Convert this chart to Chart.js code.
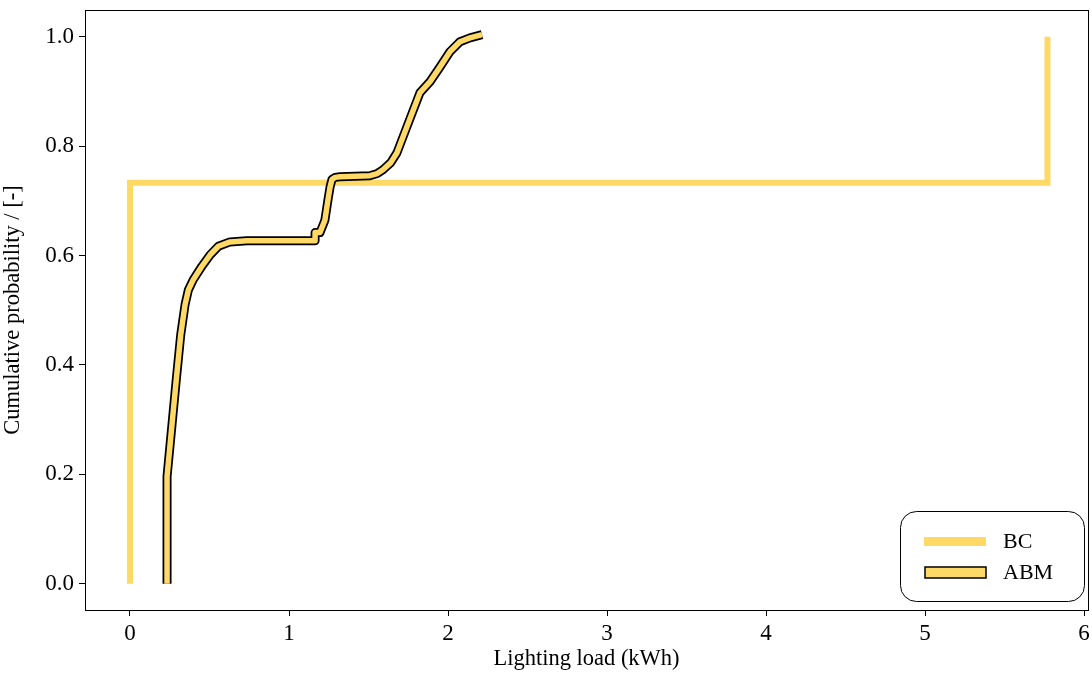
<!DOCTYPE html>
<html>
<head>
<meta charset="utf-8">
<script src="https://cdn.jsdelivr.net/npm/chart.js@4/dist/chart.umd.min.js"></script>
<style>
  html, body { margin: 0; padding: 0; background: #fff; }
  #wrap { width: 1092px; height: 679px; position: relative; }
</style>
</head>
<body>
<div id="wrap"><canvas id="cdf"></canvas></div>
<script>
// 数据
var bcX = [0, 0, 5.77, 5.77];
var bcY = [0, 0.733, 0.733, 1.0];

var abmX = [0.233, 0.233, 0.289, 0.319, 0.346, 0.367, 0.398, 0.451, 0.503, 0.556, 0.629, 0.734, 1.164, 1.164, 1.195, 1.226, 1.245, 1.258, 1.270, 1.290, 1.321, 1.509, 1.555, 1.591, 1.640, 1.679, 1.742, 1.824, 1.887, 1.950, 2.013, 2.075, 2.138, 2.214];
var abmY = [0.0, 0.196, 0.367, 0.455, 0.510, 0.537, 0.556, 0.580, 0.601, 0.617, 0.625, 0.627, 0.627, 0.642, 0.642, 0.665, 0.702, 0.725, 0.739, 0.743, 0.744, 0.746, 0.750, 0.757, 0.770, 0.788, 0.836, 0.898, 0.918, 0.945, 0.973, 0.991, 0.998, 1.004];

var xTicks = [0, 1, 2, 3, 4, 5, 6];
var yTicks = [0, 0.2, 0.4, 0.6, 0.8, 1.0];

var YELLOW = '#ffd966';
var FONT = '"Liberation Serif", "DejaVu Serif", serif';

function toPoints(xs, ys) {
    return xs.map(function(x, i) { return { x: x, y: ys[i] }; });
}

// 边框 + 图例
var framePlugin = {
    id: 'frame',
    afterDatasetsDraw: function(chart) {
        var ctx = chart.ctx;
        var a = chart.chartArea;
        ctx.save();
        ctx.strokeStyle = '#000';
        ctx.lineWidth = 1;
        ctx.strokeRect(Math.round(a.left) + 0.5, Math.round(a.top) + 0.5,
            Math.round(a.right - a.left), Math.round(a.bottom - a.top));

        // 图例框
        var bx = 900, by = 511, bw = 184, bh = 90, r = 16;
        ctx.beginPath();
        ctx.roundRect(bx + 0.5, by + 0.5, bw, bh, r);
        ctx.fillStyle = 'rgba(255,255,255,0.9)';
        ctx.fill();
        ctx.strokeStyle = '#000';
        ctx.lineWidth = 1;
        ctx.stroke();

        ctx.font = '22px ' + FONT;
        ctx.textBaseline = 'middle';
        ctx.fillStyle = '#000';

        // BC
        ctx.fillStyle = YELLOW;
        ctx.fillRect(924, 537, 62, 9);
        ctx.fillStyle = '#000';
        ctx.fillText('BC', 1003, 542);

        // ABM
        ctx.fillStyle = YELLOW;
        ctx.fillRect(925, 567, 61, 11);
        ctx.strokeStyle = '#000';
        ctx.lineWidth = 1.5;
        ctx.strokeRect(925, 567, 61, 11);
        ctx.fillStyle = '#000';
        ctx.fillText('ABM', 1003, 573);
        ctx.restore();
    }
};

var ctx = document.getElementById('cdf').getContext('2d');
new Chart(ctx, {
    type: 'scatter',
    data: {
        datasets: [
            {
                label: 'BC',
                data: toPoints(bcX, bcY),
                showLine: true,
                borderColor: YELLOW,
                borderWidth: 6,
                pointRadius: 0,
                tension: 0,
                borderJoinStyle: 'miter',
                order: 3,
            },
            {
                label: 'ABM outline',
                data: toPoints(abmX, abmY),
                showLine: true,
                borderColor: '#000',
                borderWidth: 9,
                pointRadius: 0,
                tension: 0,
                borderJoinStyle: 'round',
                order: 2,
            },
            {
                label: 'ABM',
                data: toPoints(abmX, abmY),
                showLine: true,
                borderColor: YELLOW,
                borderWidth: 5.5,
                pointRadius: 0,
                tension: 0,
                borderJoinStyle: 'round',
                order: 1,
            },
        ],
    },
    options: {
        responsive: true,
        maintainAspectRatio: false,
        animation: false,
        layout: { padding: { top: 10, right: 4, left: 0, bottom: 0 } },
        plugins: {
            legend: { display: false },
            tooltip: { enabled: false },
        },
        scales: {
            x: {
                type: 'linear',
                min: -0.283,
                max: 6.025,
                afterFit: function(s) {
                    s.height = 69;
                    s.paddingLeft = 0;
                    s.paddingRight = 0;
                },
                afterBuildTicks: function(s) {
                    s.ticks = xTicks.map(function(v) { return { value: v }; });
                },
                ticks: {
                    color: '#000',
                    font: { family: FONT, size: 23 },
                    padding: 4,
                    maxRotation: 0,
                    callback: function(v) { return String(v); },
                },
                grid: { drawOnChartArea: false, drawTicks: true, tickLength: 6, color: '#000' },
                border: { display: true, color: '#000' },
                title: {
                    display: true,
                    text: 'Lighting load (kWh)',
                    color: '#000',
                    font: { family: FONT, size: 22.5 },
                    padding: { top: 0, bottom: 6 },
                },
            },
            y: {
                type: 'linear',
                min: -0.048,
                max: 1.049,
                afterFit: function(s) {
                    s.width = 85;
                    s.paddingTop = 0;
                    s.paddingBottom = 0;
                },
                afterBuildTicks: function(s) {
                    s.ticks = yTicks.map(function(v) { return { value: v }; });
                },
                ticks: {
                    color: '#000',
                    font: { family: FONT, size: 23 },
                    padding: 5,
                    callback: function(v) { return v.toFixed(1); },
                },
                grid: { drawOnChartArea: false, drawTicks: true, tickLength: 6, color: '#000' },
                border: { display: true, color: '#000' },
                title: {
                    display: true,
                    text: 'Cumulative probability / [-]',
                    color: '#000',
                    font: { family: FONT, size: 22.5 },
                    padding: { top: 0, bottom: 4 },
                },
            },
        },
    },
    plugins: [framePlugin],
});
</script>
</body>
</html>
